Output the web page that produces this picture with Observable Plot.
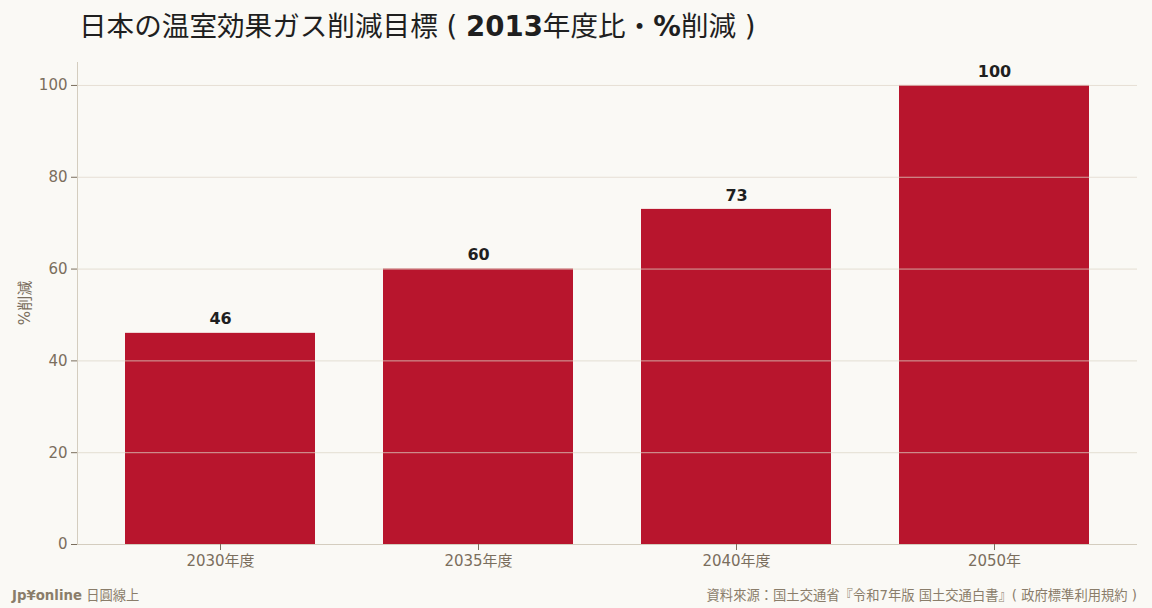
<!DOCTYPE html>
<html><head><meta charset="utf-8">
<script src="https://cdn.jsdelivr.net/npm/d3@7"></script>
<script src="https://cdn.jsdelivr.net/npm/@observablehq/plot@0.6"></script>
<style>
html,body{margin:0;padding:0;background:#faf9f5;width:1152px;height:608px;overflow:hidden;font-family:"DejaVu Sans","Noto Sans CJK JP",sans-serif;}
#title{height:52px;line-height:54px;padding-left:79px;font-size:27.6px;color:#1f1f1f;white-space:nowrap;}
#title b{font-weight:700;}
#footer{position:relative;height:26px;font-size:13.3px;color:#8a7d6a;}
#footer .l{position:absolute;left:12px;top:3px;}
#footer .r{position:absolute;right:15px;top:3px;}
</style></head>
<body>
<div id="title">日本の温室効果ガス削減目標 ( <b>2013</b>年度比・<b>%</b>削減 )</div>
<div id="chart"></div>
<div id="footer"><span class="l"><b>Jp¥online</b> 日圓線上</span><span class="r">資料來源：国土交通省『令和7年版 国土交通白書』( 政府標準利用規約 )</span></div>
<script>
const categories = ["2030年度", "2035年度", "2040年度", "2050年"];
const values = [46, 60, 73, 100];
const yTicks = [0, 20, 40, 60, 80, 100];
const data = categories.map((c, i) => ({cat: c, value: values[i]}));

const chart = Plot.plot({
  width: 1152,
  height: 530,
  marginTop: 10,
  marginBottom: 38,
  marginLeft: 77,
  marginRight: 15,
  style: {background: "transparent", fontFamily: "'DejaVu Sans','Noto Sans CJK JP',sans-serif", fontSize: "15px", color: "#7a6e5d"},
  x: {domain: categories, paddingInner: 0.264, paddingOuter: 0.186, label: null},
  y: {domain: [0, 105], ticks: yTicks, label: null},
  marks: [
    Plot.barY(data, {x: "cat", y: "value", fill: "#b8152d"}),
    Plot.ruleY(yTicks.filter(d => d > 0), {stroke: "#ddd5c8", strokeOpacity: 0.75}),
    Plot.ruleY([0], {stroke: "#d4cdbf"}),
    Plot.axisY({ticks: yTicks, tickSize: 6, tickPadding: 4, stroke: "#7a6e5d", fill: "#7a6e5d", fontSize: 15, label: null}),
    Plot.axisX({tickSize: 6, tickPadding: 5, stroke: "#7a6e5d", fill: "#7a6e5d", fontSize: 15, label: null}),
    Plot.text(data, {x: "cat", y: "value", text: d => String(d.value), dy: -14, fill: "#1f1f1f", fontWeight: "bold", fontSize: 16})
  ]
});
document.getElementById("chart").appendChild(chart);

// y-axis line and vertical label
const svg = d3.select(chart);
svg.append("line").attr("x1", 77.5).attr("x2", 77.5).attr("y1", 10).attr("y2", 492)
  .attr("stroke", "#d4cdbf");
svg.append("text").attr("transform", "translate(30,251) rotate(-90)")
  .attr("text-anchor", "middle").attr("fill", "#7a6e5d").attr("font-size", 15).text("%削減");
</script>
</body></html>
